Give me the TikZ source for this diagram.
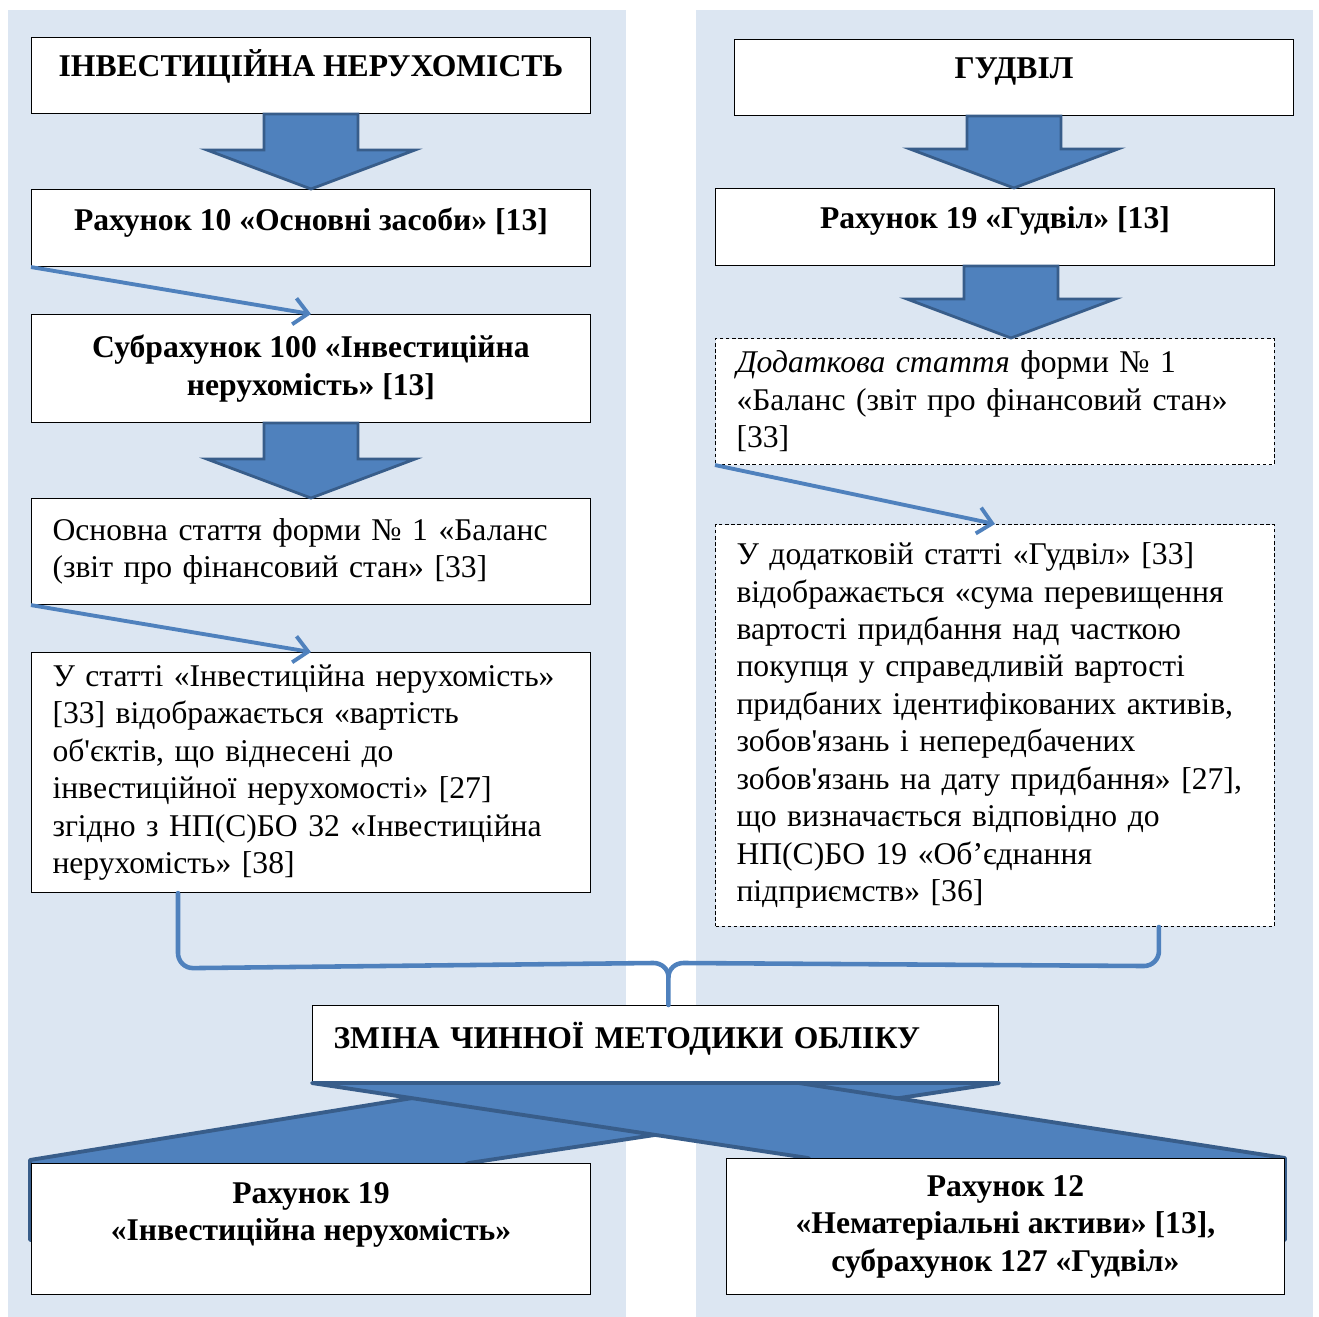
\documentclass[tikz,border=0pt]{standalone}
\usepackage{fontspec}
\setmainfont{Liberation Serif}[Ligatures=TeXOff]
\usepackage{xcolor}
\usepackage{tikz}
\usetikzlibrary{arrows.meta, positioning, calc}

\definecolor{panelblue}{HTML}{DCE6F2}
\definecolor{arrowblue}{HTML}{4F81BD}
\definecolor{arrowline}{HTML}{385D8A}

% thick block arrow pointing down, from #1 to the top of #2
\newcommand{\blockdown}[2]{%
    \path (#1) coordinate (bt) (#2) coordinate (bb);
    \path (bt |- bb) coordinate (bc);
    \filldraw[blockarrow] ($(bt)+(-47,0)$) -- ($(bt)+(47,0)$) -- ($(bc)+(47,-39)$)
        -- ($(bc)+(104,-39)$) -- (bc) -- ($(bc)+(-104,-39)$) -- ($(bc)+(-47,-39)$) -- cycle;
}

\begin{document}
\begin{tikzpicture}[
    x=0.02cm,
    y=-0.02cm,
    block/.style={
        rectangle,
        draw=black,
        line width=0.6pt,
        fill=white,
        minimum width=11.18cm,
        inner xsep=0.42cm,
        inner ysep=0pt,
        align=center,
        font=\fontsize{18}{21.3}\selectfont
    },
    raised/.style={
        text depth=0.36cm
    },
    textblock/.style={
        block,
        text width=10.34cm,
        align=left
    },
    dashblock/.style={
        textblock,
        dash pattern=on 2pt off 1.5pt
    },
    blockarrow/.style={
        fill=arrowblue,
        draw=arrowline,
        line width=1.6pt
    },
    arrow/.style={
        ->,
        >={Straight Barb[length=8pt,width=15pt]},
        line width=2.2pt,
        color=arrowblue
    },
    bracket/.style={
        line width=2.6pt,
        color=arrowblue,
        line cap=round
    },
    cross/.style={
        fill=arrowblue,
        draw=arrowline,
        line width=2.2pt,
        line join=round
    }
]
\useasboundingbox (0,0) rectangle (1319,1317);

% Background panels
\fill[panelblue] (8,10) rectangle (626,1317);
\fill[panelblue] (696,10) rectangle (1313,1317);

% Investment property side
\node[block, raised, text depth=0.5cm, anchor=north west, minimum height=1.52cm] (head1) at (31,37) {\textbf{ІНВЕСТИЦІЙНА НЕРУХОМІСТЬ}};
\node[block, raised, below=1.5cm of head1, minimum height=1.54cm] (acc10) {\textbf{Рахунок 10 «Основні засоби» [13]}};
\node[block, below=0.94cm of acc10, minimum height=2.16cm] (sub100) {\textbf{Субрахунок 100 «Інвестиційна}\\\textbf{нерухомість» [13]}};
\node[textblock, below=1.5cm of sub100, minimum height=2.12cm] (basic) {Основна стаття форми № 1 «Баланс\\(звіт про фінансовий стан» [33]};
\node[textblock, below=0.94cm of basic, minimum height=4.8cm] (inv) {У статті «Інвестиційна нерухомість»\\{[33]} відображається «вартість\\об'єктів, що віднесені до\\інвестиційної нерухомості» [27]\\згідно з НП(С)БО 32 «Інвестиційна\\нерухомість» [38]};

% Goodwill side
\node[block, raised, anchor=north west, minimum height=1.52cm] (gudvil) at (734,39) {\textbf{ГУДВІЛ}};
\node[block, raised, anchor=north west, minimum height=1.54cm] (acc19) at (715,188) {\textbf{Рахунок 19 «Гудвіл» [13]}};
\node[dashblock, below=1.44cm of acc19, minimum height=2.52cm] (extra) {\textit{Додаткова стаття} форми № 1\\«Баланс (звіт про фінансовий стан»\\{[33]}};
\node[dashblock, below=1.18cm of extra, minimum height=8.04cm] (gw) {У додатковій статті «Гудвіл» [33]\\відображається «сума перевищення\\вартості придбання над часткою\\покупця у справедливій вартості\\придбаних ідентифікованих активів,\\зобов'язань і непередбачених\\зобов'язань на дату придбання» [27],\\що визначається відповідно до\\НП(С)БО 19 «Об’єднання\\підприємств» [36]};

% Change of method
\node[textblock, raised, anchor=north west, minimum width=13.72cm, text width=12.88cm, minimum height=1.54cm] (change) at (312,1005) {\textbf{ЗМІНА ЧИННОЇ МЕТОДИКИ ОБЛІКУ}};

% Arrows
\blockdown{head1.south}{acc10.north}
\blockdown{sub100.south}{basic.north}
\blockdown{gudvil.south}{acc19.north}
\blockdown{$(acc19.south)+(16,0)$}{extra.north}
\draw[arrow] (acc10.south west) -- (sub100.north);
\draw[arrow] (basic.south west) -- (inv.north);
\draw[arrow] (extra.south west) -- (gw.north);

% Brace
\coordinate (bl) at ($(inv.south west)+(147,0)$);
\coordinate (br) at ($(gw.south east)+(-116,0)$);
\coordinate (tip) at ($(change.north)+(13,0)$);
\draw[bracket] (bl) -- ++(0,60) to[out=-90,in=180] ++(15,15) -- ($(tip)+(-15,-42)$) to[out=0,in=90] ($(tip)+(0,-28)$) -- (tip);
\draw[bracket] (br) -- ++(0,24) to[out=-90,in=0] ++(-15,15) -- ($(tip)+(15,-42)$) to[out=180,in=90] ($(tip)+(0,-28)$);

% Crossing bands
\filldraw[cross] ($(change.south west)+(193,0)$) -- (change.south east) -- (469,1163) -- (300,1240) -- (30,1240) -- (30,1160) -- cycle;
\filldraw[cross] (change.south west) -- ($(change.south west)+(487,0)$) -- (1285,1158) -- (1285,1240) -- (900,1240) -- (808,1158) -- cycle;

% Accounts after the change
\node[block, text depth=0.69cm, anchor=north west, minimum height=2.62cm] (acc19new) at (31,1163) {\textbf{Рахунок 19}\\\textbf{«Інвестиційна нерухомість»}};
\node[block, anchor=north west, minimum width=11.16cm, minimum height=2.72cm] (acc12) at (726,1158) {\textbf{Рахунок 12}\\\textbf{«Нематеріальні активи» [13],}\\\textbf{субрахунок 127 «Гудвіл»}};

\end{tikzpicture}
\end{document}
